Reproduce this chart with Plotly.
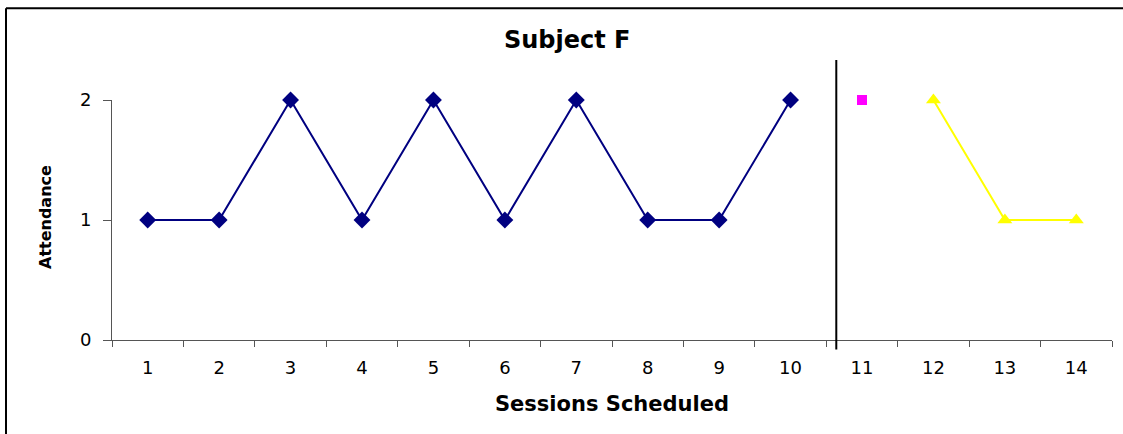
import plotly.graph_objects as go

# Session data
sessions = [str(i) for i in range(1, 15)]
baseline_sessions = ["1", "2", "3", "4", "5", "6", "7", "8", "9", "10"]
baseline_attendance = [1, 1, 2, 1, 2, 1, 2, 1, 1, 2]
probe_sessions = ["11"]
probe_attendance = [2]
followup_sessions = ["12", "13", "14"]
followup_attendance = [2, 1, 1]
phase_change = 10.64  # phase-change line, in session units
y_ticks = [0, 1, 2]

FONT = "DejaVu Sans, Arial, sans-serif"

fig = go.Figure()
fig.add_trace(go.Scatter(
    x=baseline_sessions, y=baseline_attendance, mode="lines+markers",
    line=dict(color="#000080", width=2),
    marker=dict(symbol="diamond", size=13, color="#000080"),
    cliponaxis=False, showlegend=False))
fig.add_trace(go.Scatter(
    x=probe_sessions, y=probe_attendance, mode="markers",
    marker=dict(symbol="square", size=10, color="#FF00FF"),
    cliponaxis=False, showlegend=False))
fig.add_trace(go.Scatter(
    x=followup_sessions, y=followup_attendance, mode="lines+markers",
    line=dict(color="#FFFF00", width=2),
    marker=dict(symbol="triangle-up", size=13, color="#FFFF00"),
    cliponaxis=False, showlegend=False))

# Phase-change line (category axis uses 0-based index positions)
fig.add_shape(type="line", xref="x", yref="paper",
              x0=phase_change - 1, x1=phase_change - 1,
              y0=-0.04, y1=1.167,
              line=dict(color="black", width=2))

# Outer chart border: left and top edges only; the rest runs off the page
fig.add_shape(type="line", xref="paper", yref="paper",
              x0=-0.106, x1=-0.106, y0=-0.45, y1=1.382,
              line=dict(color="black", width=2), layer="above")
fig.add_shape(type="line", xref="paper", yref="paper",
              x0=-0.106, x1=1.011, y0=1.382, y1=1.382,
              line=dict(color="black", width=2), layer="above")

fig.add_annotation(text="<b>Subject F</b>", xref="paper", yref="paper",
                   x=0.455, y=1.25, xanchor="center", yanchor="middle",
                   showarrow=False,
                   font=dict(family=FONT, size=24, color="black"))
fig.add_annotation(text="<b>Sessions Scheduled</b>", xref="paper", yref="paper",
                   x=0.5, y=-0.267, xanchor="center", yanchor="middle",
                   showarrow=False,
                   font=dict(family=FONT, size=21, color="black"))
fig.add_annotation(text="<b>Attendance</b>", xref="paper", yref="paper",
                   x=-0.067, y=0.5125, xanchor="center", yanchor="middle",
                   showarrow=False, textangle=-90,
                   font=dict(family=FONT, size=16, color="black"))

fig.update_layout(
    width=1123, height=434,
    margin=dict(l=112, r=11, t=100, b=94),
    paper_bgcolor="white", plot_bgcolor="white",
    font=dict(family=FONT, color="black"),
    xaxis=dict(type="category", categoryorder="array", categoryarray=sessions,
               range=[-0.5, 13.5], tickson="boundaries", ticks="outside",
               ticklen=6, tickcolor="#555", showline=True, linecolor="#555",
               linewidth=1, showgrid=False, zeroline=False,
               tickfont=dict(family=FONT, size=18, color="black"),
               ticklabelstandoff=11),
    yaxis=dict(range=[0, 2], tickvals=y_ticks, ticks="outside", ticklen=8,
               tickcolor="#555", showline=True, linecolor="#555", linewidth=1,
               showgrid=False, zeroline=False,
               tickfont=dict(family=FONT, size=18, color="black"),
               ticklabelstandoff=8),
)

fig.write_html("out.html", config={"displayModeBar": False})
